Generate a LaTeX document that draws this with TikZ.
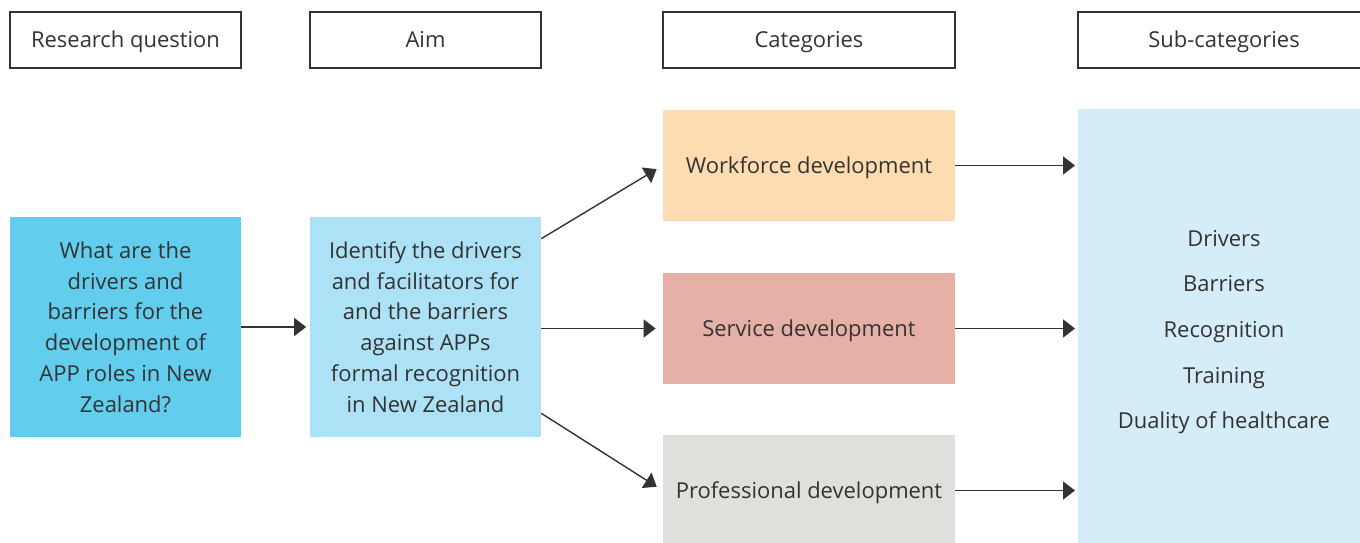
\documentclass[tikz,border=0pt]{standalone}
\usepackage{fontspec}
\setmainfont{Open Sans}
\usepackage{tikz}
\usepackage{xcolor}
\usetikzlibrary{positioning,shapes,arrows.meta,calc}

\definecolor{qblue}{HTML}{62CDED}
\definecolor{aimblue}{HTML}{ADE1F5}
\definecolor{peach}{HTML}{FDDCB1}
\definecolor{rose}{HTML}{E6B0A6}
\definecolor{stone}{HTML}{E0DFDC}
\definecolor{skyblue}{HTML}{D5EDF9}
\definecolor{ink}{HTML}{333333}

\begin{document}
\begin{tikzpicture}[x=0.02cm,y=-0.02cm]
\tikzstyle{every node}+=[inner sep=0pt,text=ink,font=\fontsize{12.5}{17.5}\selectfont]
\tikzstyle{oneline}=[text height=9pt,text depth=0pt]
\tikzstyle{head}=[oneline,draw=ink,line width=0.7pt,minimum height=1.12cm]
\tikzstyle{box}=[oneline,minimum width=5.84cm,minimum height=2.22cm]
\tikzstyle{link}=[draw=ink,line width=0.8pt,-{Triangle[length=0.24cm,width=0.36cm]}]
\clip (0,0) rectangle (1360,542);
% column headings
\node [head,minimum width=4.62cm] (hq) at (125.5,40) {Research question};
\node [head,minimum width=4.62cm] (ha) at (425.5,40) {Aim};
\node [head,minimum width=5.84cm] (hc) at (809,40) {Categories};
\node [head,minimum width=5.84cm] (hs) at (1224,40) {Sub-categories};
% question and aim
\node [fill=qblue,minimum width=4.62cm,minimum height=4.4cm,align=center] (q) at (125.5,327)
  {What are the\\drivers and\\barriers for the\\development of\\APP roles in New\\Zealand?};
\node [fill=aimblue,minimum width=4.62cm,minimum height=4.4cm,align=center] (a) at (425.5,327)
  {Identify the drivers\\and facilitators for\\and the barriers\\against APPs\\formal recognition\\in New Zealand};
% categories
\node [box,fill=peach] (wf) at (809,165.5) {Workforce development};
\node [box,fill=rose] (sd) at (809,328.5) {Service development};
\node [box,fill=stone] (pd) at (809,490.5) {Professional development};
% sub-categories
\node [fill=skyblue,minimum width=5.84cm,minimum height=8.8cm] (sub) at (1224,329) {};
\node [align=center,font=\fontsize{12.5}{26}\selectfont] (subtxt) at (1224,332)
  {Drivers\\Barriers\\Recognition\\Training\\Duality of healthcare};
% connectors
\draw [link,shorten >=2pt] (q.east) -- (a.west);
\draw [link,shorten >=4pt] ($(a.north east)+(0,22)$) -- (wf.west);
\draw [link,shorten >=4pt] (a.east |- sd.west) -- (sd.west);
\draw [link,shorten >=4pt] ($(a.south east)+(0,-24)$) -- (pd.west);
\draw [link,shorten >=1.5pt] (wf.east) -- (wf.east -| sub.west);
\draw [link,shorten >=1.5pt] (sd.east) -- (sd.east -| sub.west);
\draw [link,shorten >=1.5pt] (pd.east) -- (pd.east -| sub.west);
\end{tikzpicture}
\end{document}
